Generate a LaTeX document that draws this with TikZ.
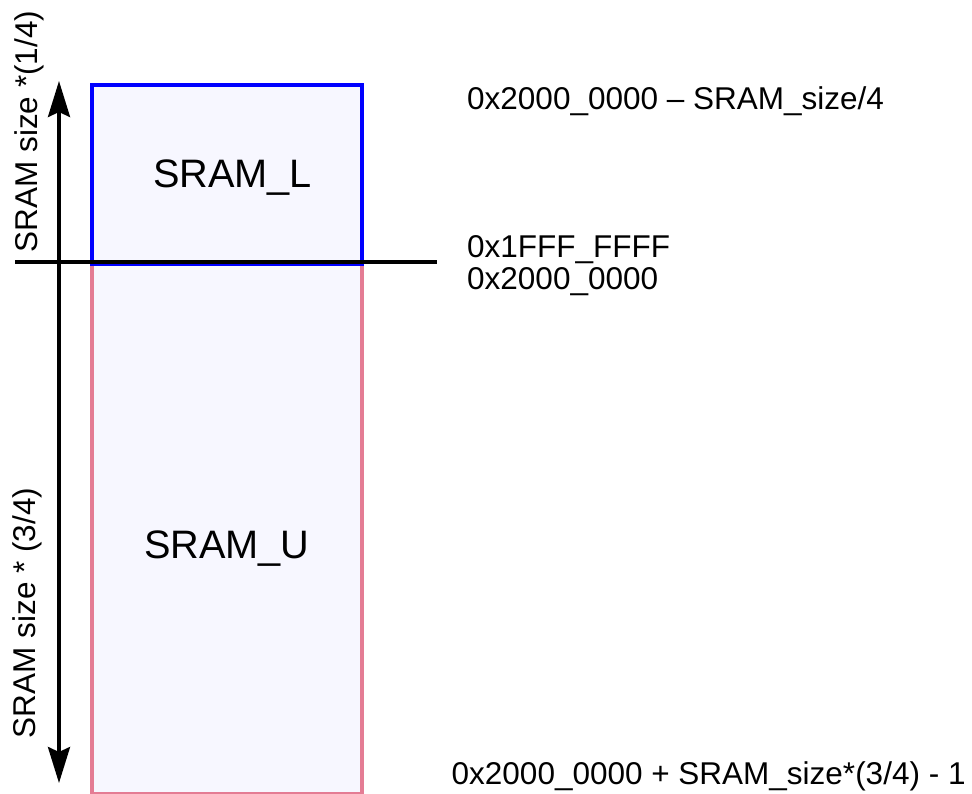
\documentclass[tikz,border=0pt]{standalone}
\usepackage{fontspec}
\setmainfont{Liberation Sans}
\usetikzlibrary{arrows.meta}
\definecolor{boxfill}{RGB}{247,247,255}
\definecolor{upink}{RGB}{228,124,148}
\definecolor{lblue}{RGB}{0,0,255}
\begin{document}
\begin{tikzpicture}[x=1pt,y=1pt,
  membox/.style={draw, fill=boxfill, line width=3.5pt, inner sep=0pt, anchor=north west},
  boxlabel/.style={inner sep=0pt, anchor=base west, font=\fontsize{39.7}{39.7}\selectfont},
  addr/.style={inner sep=0pt, anchor=base west, font=\fontsize{31.5}{31.5}\selectfont},
  sizelabel/.style={inner sep=0pt, anchor=base, rotate=90, font=\fontsize{31.5}{31.5}\selectfont},
  sizearrow/.style={line width=3.5pt, -{Stealth[length=36pt,width=22pt,inset=5pt]}}]
\useasboundingbox (0,0) rectangle (972,-793);
% memory blocks
\node[membox, draw=upink, minimum width=270pt, minimum height=529.5pt] (U) at (90,-262) {};
\node[membox, draw=lblue, minimum width=270pt, minimum height=179pt] (L) at (90,-83) {};
% labels inside blocks
\node[boxlabel] (Ltext) at (153,-187.5) {SRAM\_L};
\node[boxlabel] (Utext) at (144,-558.5) {SRAM\_U};
% boundary line
\coordinate (hl) at (15,-262);
\coordinate (hr) at (437,-262);
\draw[line width=3.5pt] (hl) -- (hr);
% size arrows
\coordinate (ac) at (59,-262);
\coordinate (at) at (59,-81);
\coordinate (ab) at (59,-783);
\draw[sizearrow] (ac) -- (at);
\draw[sizearrow] (ac) -- (ab);
\node[sizelabel] (s1) at (37.8,-131.5) {SRAM size *(1/4)};
\node[sizelabel] (s3) at (35.5,-613) {SRAM size * (3/4)};
% addresses
\node[addr] (a1) at (467,-109.5) {0x2000\_0000 – SRAM\_size/4};
\node[addr] (a2) at (467,-257.5) {0x1FFF\_FFFF};
\node[addr] (a3) at (467,-289.5) {0x2000\_0000};
\node[addr] (a4) at (451.5,-784.5) {0x2000\_0000 + SRAM\_size*(3/4) - 1};
\end{tikzpicture}
\end{document}
